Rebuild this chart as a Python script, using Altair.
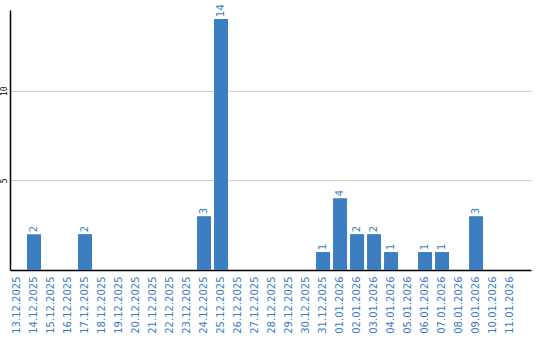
import altair as alt
import pandas as pd

dates = ["13.12.2025", "14.12.2025", "15.12.2025", "16.12.2025", "17.12.2025",
         "18.12.2025", "19.12.2025", "20.12.2025", "21.12.2025", "22.12.2025",
         "23.12.2025", "24.12.2025", "25.12.2025", "26.12.2025", "27.12.2025",
         "28.12.2025", "29.12.2025", "30.12.2025", "31.12.2025", "01.01.2026",
         "02.01.2026", "03.01.2026", "04.01.2026", "05.01.2026", "06.01.2026",
         "07.01.2026", "08.01.2026", "09.01.2026", "10.01.2026", "11.01.2026"]
counts = [0, 2, 0, 0, 2, 0, 0, 0, 0, 0, 0, 3, 14, 0, 0, 0, 0, 0, 1, 4,
          2, 2, 1, 0, 1, 1, 0, 3, 0, 0]

df = pd.DataFrame({"date": dates, "count": counts})
df["label"] = df["count"].apply(lambda v: str(v) if v > 0 else "")

blue = "#3b7ec2"

x = alt.X("date:N", sort=dates, title=None,
          scale=alt.Scale(paddingInner=3/17, paddingOuter=0.41, align=0),
          axis=alt.Axis(labelAngle=270, labelColor="#3a7dc4", labelFont="DejaVu Sans",
                        labelFontSize=10, ticks=False, labelPadding=6,
                        domainColor="black", domainWidth=1.5, grid=False,
                        labelAlign="right", labelBaseline="middle"))
y = alt.Y("count:Q", title=None,
          scale=alt.Scale(domain=[0, 14.5], nice=False),
          axis=alt.Axis(values=[5, 10], labelAngle=270, labelFontSize=8,
                        labelFont="DejaVu Sans Mono", labelColor="black",
                        ticks=False, labelPadding=2, domainColor="black",
                        domainWidth=1.5, gridColor="#cccccc", grid=True,
                        labelAlign="center", labelBaseline="bottom"))

bars = alt.Chart(df).mark_bar(color=blue).encode(x=x, y=y)
text = alt.Chart(df).mark_text(angle=270, align="left", baseline="middle", dx=2,
                               color="#3a7dc4", font="DejaVu Sans", fontSize=10).encode(
    x=alt.X("date:N", sort=dates), y="count:Q", text="label:N")

chart = (bars + text).properties(
    width=521, height=260,
    padding={"left": 10, "top": 10, "right": 9, "bottom": 70},
    autosize=alt.AutoSizeParams(type="none"),
).configure(background="white").configure_view(stroke=None)

chart.save("out.html", embed_options={"renderer": "svg", "actions": False})
